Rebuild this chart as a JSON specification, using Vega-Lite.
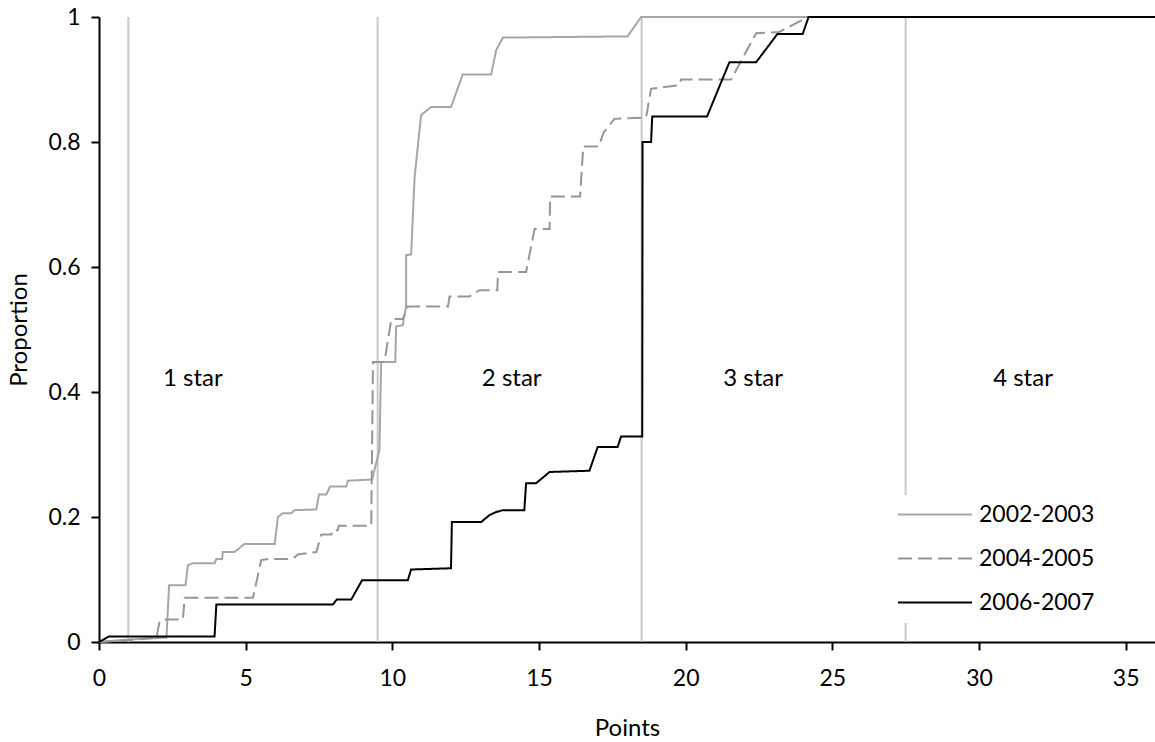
{
  "$schema": "https://vega.github.io/schema/vega-lite/v6.json",
  "width": 1056,
  "height": 625,
  "autosize": {"type": "none"},
  "padding": {"left": 99, "top": 17, "right": 0, "bottom": 100},
  "background": "white",
  "config": {
    "view": {"stroke": null},
    "font": "Lato",
    "axis": {"labelFont": "Lato", "titleFont": "Lato", "labelFontSize": 23, "titleFontSize": 24, "titleFontWeight": "normal", "labelColor": "black", "titleColor": "black", "domainColor": "black", "domainWidth": 2, "tickColor": "black", "tickWidth": 2, "tickSize": 8, "grid": false},
    "legend": {"labelFont": "Lato", "labelFontSize": 23, "labelColor": "black"}
  },
  "datasets": {
    "curves": [
      {"series": "2002-2003", "i": 1, "x": 0, "y": 0},
      {"series": "2002-2003", "i": 2, "x": 1.0, "y": 0.004},
      {"series": "2002-2003", "i": 3, "x": 2.3, "y": 0.007},
      {"series": "2002-2003", "i": 4, "x": 2.39, "y": 0.091},
      {"series": "2002-2003", "i": 5, "x": 2.95, "y": 0.091},
      {"series": "2002-2003", "i": 6, "x": 3.03, "y": 0.123},
      {"series": "2002-2003", "i": 7, "x": 3.2, "y": 0.126},
      {"series": "2002-2003", "i": 8, "x": 3.94, "y": 0.126},
      {"series": "2002-2003", "i": 9, "x": 4.0, "y": 0.133},
      {"series": "2002-2003", "i": 10, "x": 4.2, "y": 0.133},
      {"series": "2002-2003", "i": 11, "x": 4.22, "y": 0.144},
      {"series": "2002-2003", "i": 12, "x": 4.62, "y": 0.144},
      {"series": "2002-2003", "i": 13, "x": 4.96, "y": 0.157},
      {"series": "2002-2003", "i": 14, "x": 5.99, "y": 0.157},
      {"series": "2002-2003", "i": 15, "x": 6.1, "y": 0.2},
      {"series": "2002-2003", "i": 16, "x": 6.27, "y": 0.206},
      {"series": "2002-2003", "i": 17, "x": 6.55, "y": 0.206},
      {"series": "2002-2003", "i": 18, "x": 6.67, "y": 0.211},
      {"series": "2002-2003", "i": 19, "x": 7.41, "y": 0.212},
      {"series": "2002-2003", "i": 20, "x": 7.5, "y": 0.236},
      {"series": "2002-2003", "i": 21, "x": 7.75, "y": 0.236},
      {"series": "2002-2003", "i": 22, "x": 7.88, "y": 0.249},
      {"series": "2002-2003", "i": 23, "x": 8.43, "y": 0.249},
      {"series": "2002-2003", "i": 24, "x": 8.48, "y": 0.258},
      {"series": "2002-2003", "i": 25, "x": 9.31, "y": 0.26},
      {"series": "2002-2003", "i": 26, "x": 9.56, "y": 0.307},
      {"series": "2002-2003", "i": 27, "x": 9.62, "y": 0.448},
      {"series": "2002-2003", "i": 28, "x": 10.1, "y": 0.448},
      {"series": "2002-2003", "i": 29, "x": 10.13, "y": 0.505},
      {"series": "2002-2003", "i": 30, "x": 10.36, "y": 0.507},
      {"series": "2002-2003", "i": 31, "x": 10.38, "y": 0.515},
      {"series": "2002-2003", "i": 32, "x": 10.47, "y": 0.536},
      {"series": "2002-2003", "i": 33, "x": 10.47, "y": 0.619},
      {"series": "2002-2003", "i": 34, "x": 10.64, "y": 0.62},
      {"series": "2002-2003", "i": 35, "x": 10.76, "y": 0.744},
      {"series": "2002-2003", "i": 36, "x": 10.98, "y": 0.843},
      {"series": "2002-2003", "i": 37, "x": 11.32, "y": 0.856},
      {"series": "2002-2003", "i": 38, "x": 12.0, "y": 0.856},
      {"series": "2002-2003", "i": 39, "x": 12.4, "y": 0.908},
      {"series": "2002-2003", "i": 40, "x": 13.37, "y": 0.908},
      {"series": "2002-2003", "i": 41, "x": 13.54, "y": 0.947},
      {"series": "2002-2003", "i": 42, "x": 13.77, "y": 0.967},
      {"series": "2002-2003", "i": 43, "x": 18.02, "y": 0.969},
      {"series": "2002-2003", "i": 44, "x": 18.48, "y": 1},
      {"series": "2002-2003", "i": 45, "x": 36, "y": 1},
      {"series": "2004-2005", "i": 1, "x": 0, "y": 0},
      {"series": "2004-2005", "i": 2, "x": 1.0, "y": 0.003},
      {"series": "2004-2005", "i": 3, "x": 1.96, "y": 0.007},
      {"series": "2004-2005", "i": 4, "x": 2.07, "y": 0.034},
      {"series": "2004-2005", "i": 5, "x": 2.18, "y": 0.036},
      {"series": "2004-2005", "i": 6, "x": 2.86, "y": 0.036},
      {"series": "2004-2005", "i": 7, "x": 2.92, "y": 0.071},
      {"series": "2004-2005", "i": 8, "x": 5.25, "y": 0.071},
      {"series": "2004-2005", "i": 9, "x": 5.53, "y": 0.131},
      {"series": "2004-2005", "i": 10, "x": 5.82, "y": 0.133},
      {"series": "2004-2005", "i": 11, "x": 6.61, "y": 0.133},
      {"series": "2004-2005", "i": 12, "x": 6.78, "y": 0.14},
      {"series": "2004-2005", "i": 13, "x": 7.41, "y": 0.144},
      {"series": "2004-2005", "i": 14, "x": 7.58, "y": 0.172},
      {"series": "2004-2005", "i": 15, "x": 7.92, "y": 0.172},
      {"series": "2004-2005", "i": 16, "x": 7.97, "y": 0.179},
      {"series": "2004-2005", "i": 17, "x": 8.14, "y": 0.179},
      {"series": "2004-2005", "i": 18, "x": 8.18, "y": 0.186},
      {"series": "2004-2005", "i": 19, "x": 9.28, "y": 0.186},
      {"series": "2004-2005", "i": 20, "x": 9.34, "y": 0.448},
      {"series": "2004-2005", "i": 21, "x": 9.73, "y": 0.448},
      {"series": "2004-2005", "i": 22, "x": 9.96, "y": 0.515},
      {"series": "2004-2005", "i": 23, "x": 10.02, "y": 0.517},
      {"series": "2004-2005", "i": 24, "x": 10.36, "y": 0.517},
      {"series": "2004-2005", "i": 25, "x": 10.53, "y": 0.537},
      {"series": "2004-2005", "i": 26, "x": 11.9, "y": 0.537},
      {"series": "2004-2005", "i": 27, "x": 11.95, "y": 0.553},
      {"series": "2004-2005", "i": 28, "x": 12.63, "y": 0.553},
      {"series": "2004-2005", "i": 29, "x": 12.97, "y": 0.563},
      {"series": "2004-2005", "i": 30, "x": 13.58, "y": 0.563},
      {"series": "2004-2005", "i": 31, "x": 13.6, "y": 0.592},
      {"series": "2004-2005", "i": 32, "x": 14.56, "y": 0.592},
      {"series": "2004-2005", "i": 33, "x": 14.85, "y": 0.661},
      {"series": "2004-2005", "i": 34, "x": 15.36, "y": 0.661},
      {"series": "2004-2005", "i": 35, "x": 15.38, "y": 0.713},
      {"series": "2004-2005", "i": 36, "x": 16.4, "y": 0.713},
      {"series": "2004-2005", "i": 37, "x": 16.51, "y": 0.793},
      {"series": "2004-2005", "i": 38, "x": 17.04, "y": 0.793},
      {"series": "2004-2005", "i": 39, "x": 17.2, "y": 0.815},
      {"series": "2004-2005", "i": 40, "x": 17.57, "y": 0.837},
      {"series": "2004-2005", "i": 41, "x": 18.65, "y": 0.839},
      {"series": "2004-2005", "i": 42, "x": 18.82, "y": 0.885},
      {"series": "2004-2005", "i": 43, "x": 19.79, "y": 0.891},
      {"series": "2004-2005", "i": 44, "x": 19.84, "y": 0.9},
      {"series": "2004-2005", "i": 45, "x": 21.55, "y": 0.9},
      {"series": "2004-2005", "i": 46, "x": 22.4, "y": 0.974},
      {"series": "2004-2005", "i": 47, "x": 23.19, "y": 0.976},
      {"series": "2004-2005", "i": 48, "x": 24.16, "y": 1},
      {"series": "2004-2005", "i": 49, "x": 36, "y": 1},
      {"series": "2006-2007", "i": 1, "x": 0, "y": 0},
      {"series": "2006-2007", "i": 2, "x": 0.34, "y": 0.009},
      {"series": "2006-2007", "i": 3, "x": 3.94, "y": 0.009},
      {"series": "2006-2007", "i": 4, "x": 4.0, "y": 0.06},
      {"series": "2006-2007", "i": 5, "x": 7.97, "y": 0.06},
      {"series": "2006-2007", "i": 6, "x": 8.11, "y": 0.068},
      {"series": "2006-2007", "i": 7, "x": 8.6, "y": 0.068},
      {"series": "2006-2007", "i": 8, "x": 8.97, "y": 0.099},
      {"series": "2006-2007", "i": 9, "x": 10.53, "y": 0.099},
      {"series": "2006-2007", "i": 10, "x": 10.64, "y": 0.116},
      {"series": "2006-2007", "i": 11, "x": 12.0, "y": 0.118},
      {"series": "2006-2007", "i": 12, "x": 12.03, "y": 0.192},
      {"series": "2006-2007", "i": 13, "x": 13.03, "y": 0.192},
      {"series": "2006-2007", "i": 14, "x": 13.31, "y": 0.203},
      {"series": "2006-2007", "i": 15, "x": 13.54, "y": 0.208},
      {"series": "2006-2007", "i": 16, "x": 13.77, "y": 0.211},
      {"series": "2006-2007", "i": 17, "x": 14.5, "y": 0.211},
      {"series": "2006-2007", "i": 18, "x": 14.56, "y": 0.254},
      {"series": "2006-2007", "i": 19, "x": 14.9, "y": 0.254},
      {"series": "2006-2007", "i": 20, "x": 15.36, "y": 0.272},
      {"series": "2006-2007", "i": 21, "x": 16.72, "y": 0.274},
      {"series": "2006-2007", "i": 22, "x": 17.0, "y": 0.312},
      {"series": "2006-2007", "i": 23, "x": 17.68, "y": 0.312},
      {"series": "2006-2007", "i": 24, "x": 17.8, "y": 0.329},
      {"series": "2006-2007", "i": 25, "x": 18.52, "y": 0.329},
      {"series": "2006-2007", "i": 26, "x": 18.53, "y": 0.8},
      {"series": "2006-2007", "i": 27, "x": 18.82, "y": 0.8},
      {"series": "2006-2007", "i": 28, "x": 18.86, "y": 0.841},
      {"series": "2006-2007", "i": 29, "x": 20.73, "y": 0.841},
      {"series": "2006-2007", "i": 30, "x": 21.49, "y": 0.9275},
      {"series": "2006-2007", "i": 31, "x": 22.4, "y": 0.9275},
      {"series": "2006-2007", "i": 32, "x": 23.13, "y": 0.973},
      {"series": "2006-2007", "i": 33, "x": 23.99, "y": 0.973},
      {"series": "2006-2007", "i": 34, "x": 24.19, "y": 1},
      {"series": "2006-2007", "i": 35, "x": 36, "y": 1}
    ],
    "bands": [{"x": 1}, {"x": 9.5}, {"x": 18.5}, {"x": 27.5}],
    "labels": [
      {"label": "1 star", "x": 3.2, "y": 0.41},
      {"label": "2 star", "x": 14.07, "y": 0.41},
      {"label": "3 star", "x": 22.3, "y": 0.41},
      {"label": "4 star", "x": 31.5, "y": 0.41}
    ]
  },
  "layer": [
    {
      "data": {"name": "bands"},
      "mark": {"type": "rule", "color": "#c8c8c8", "strokeWidth": 2},
      "encoding": {
        "x": {"field": "x", "type": "quantitative", "scale": {"domain": [0, 36], "nice": false}, "axis": {"values": [0, 5, 10, 15, 20, 25, 30, 35], "title": "Points", "labelPadding": 17, "titlePadding": 26, "labelFlush": false}}
      }
    },
    {
      "data": {"name": "labels"},
      "mark": {"type": "text", "font": "Lato", "fontSize": 24, "color": "black", "align": "center", "baseline": "alphabetic"},
      "encoding": {
        "x": {"field": "x", "type": "quantitative"},
        "y": {"field": "y", "type": "quantitative"},
        "text": {"field": "label"}
      }
    },
    {
      "data": {"name": "curves"},
      "mark": {"type": "line", "strokeWidth": 2},
      "encoding": {
        "x": {"field": "x", "type": "quantitative"},
        "y": {"field": "y", "type": "quantitative", "scale": {"domain": [0, 1], "nice": false}, "axis": {"values": [0, 0.2, 0.4, 0.6, 0.8, 1], "format": "~g", "title": "Proportion", "labelPadding": 11, "titlePadding": 16}},
        "order": {"field": "i", "type": "quantitative"},
        "color": {"field": "series", "type": "nominal", "scale": {"domain": ["2002-2003", "2004-2005", "2006-2007"], "range": ["#a6a6a6", "#969696", "#000000"]}, "legend": {"title": null, "orient": "none", "legendX": 790, "legendY": 478, "symbolType": "stroke", "symbolSize": 5476, "symbolStrokeWidth": 2, "clipHeight": 23, "rowPadding": 20, "labelOffset": 6, "fillColor": "white", "padding": 8}},
        "strokeDash": {"field": "series", "type": "nominal", "scale": {"domain": ["2002-2003", "2004-2005", "2006-2007"], "range": [[1, 0], [14, 6], [1, 0]]}, "legend": {"title": null, "orient": "none", "legendX": 790, "legendY": 478, "symbolType": "stroke", "symbolSize": 5476, "symbolStrokeWidth": 2, "clipHeight": 23, "rowPadding": 20, "labelOffset": 6, "fillColor": "white", "padding": 8}}
      }
    },
    {
      "mark": {"type": "rule", "color": "black", "strokeWidth": 2},
      "encoding": {"y": {"datum": 1}}
    }
  ]
}
